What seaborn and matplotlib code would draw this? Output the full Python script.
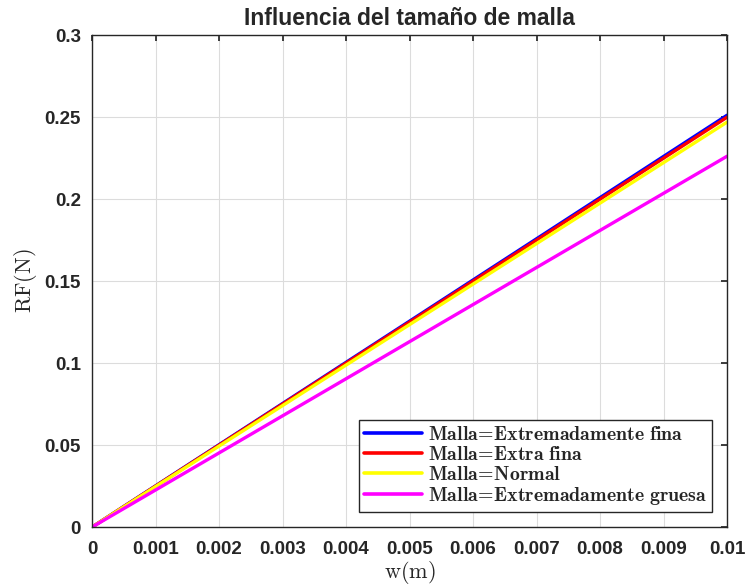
import numpy as np
import pandas as pd
import matplotlib
matplotlib.use("Agg")
import matplotlib.pyplot as plt
import seaborn as sns

w = [0.0, 0.01]
rf_extremadamente_fina = [0.0, 0.2512]
rf_extra_fina = [0.0, 0.2500]
rf_normal = [0.0, 0.2470]
rf_extremadamente_gruesa = [0.0, 0.2262]
labels = ["Malla=Extremadamente fina", "Malla=Extra fina", "Malla=Normal",
          "Malla=Extremadamente gruesa"]
colors = ["#0000ff", "#ff0000", "#ffff00", "#ff00ff"]
xticks = [0, 0.001, 0.002, 0.003, 0.004, 0.005, 0.006, 0.007, 0.008, 0.009, 0.01]
xticklabels = ["0", "0.001", "0.002", "0.003", "0.004", "0.005", "0.006", "0.007", "0.008", "0.009", "0.01"]
yticks = [0, 0.05, 0.1, 0.15, 0.2, 0.25, 0.3]
yticklabels = ["0", "0.05", "0.1", "0.15", "0.2", "0.25", "0.3"]

sns.set_theme(style="whitegrid")
plt.rcParams['font.family'] = ['Liberation Sans', 'DejaVu Sans']
plt.rcParams['mathtext.fontset'] = 'cm'

rows = []
for lab, ys in zip(labels, [rf_extremadamente_fina, rf_extra_fina, rf_normal, rf_extremadamente_gruesa]):
    for xv, yv in zip(w, ys):
        rows.append({"w": xv, "RF": yv, "serie": lab})
df = pd.DataFrame(rows)

fig = plt.figure(figsize=(7.48, 5.87), dpi=100)
ax = fig.add_axes([0.123, 0.102, 0.849, 0.838])
sns.lineplot(data=df, x="w", y="RF", hue="serie", palette=colors, hue_order=labels,
             linewidth=2.4, ax=ax, legend=False)

ax.set_xlim(0, 0.01)
ax.set_ylim(0, 0.3)
ax.set_xticks(xticks)
ax.set_xticklabels(xticklabels, fontsize=13.5, fontweight='bold', color='#262626')
ax.set_yticks(yticks)
ax.set_yticklabels(yticklabels, fontsize=13.5, fontweight='bold', color='#262626')
ax.tick_params(axis='x', pad=10)
ax.tick_params(axis='y', pad=8)
ax.tick_params(direction='in', length=4, color='#262626', top=True, right=True)
ax.grid(True, color='#dcdcdc', linewidth=0.8)
for s in ax.spines.values():
    s.set_color('#262626')
    s.set_linewidth(1.0)
ax.set_facecolor('white')

ax.set_title("Influencia del tamaño de malla", fontsize=16.5, fontweight='bold', pad=7)
ax.set_xlabel(r"$\mathrm{w(m)}$", fontsize=16, color='#262626', labelpad=1)
ax.set_ylabel(r"$\mathrm{RF(N)}$", fontsize=16, color='#262626', labelpad=4)

handles = [plt.Line2D([0], [0], color=c, linewidth=2.6) for c in colors]
leg_labels = [r"$\mathbf{" + l.replace(" ", r"\ ").replace("=", r"\!=\!") + "}$" for l in labels]
leg = ax.legend(handles, leg_labels, loc='lower right', fontsize=14.3, frameon=True,
                fancybox=False, edgecolor='#262626', framealpha=1,
                borderpad=0.25, labelspacing=0.05, handlelength=2.9, handletextpad=0.3,
                borderaxespad=0, bbox_to_anchor=(0.976, 0.0305))
leg.get_frame().set_linewidth(1.0)

fig.savefig("out.png", dpi=100)
